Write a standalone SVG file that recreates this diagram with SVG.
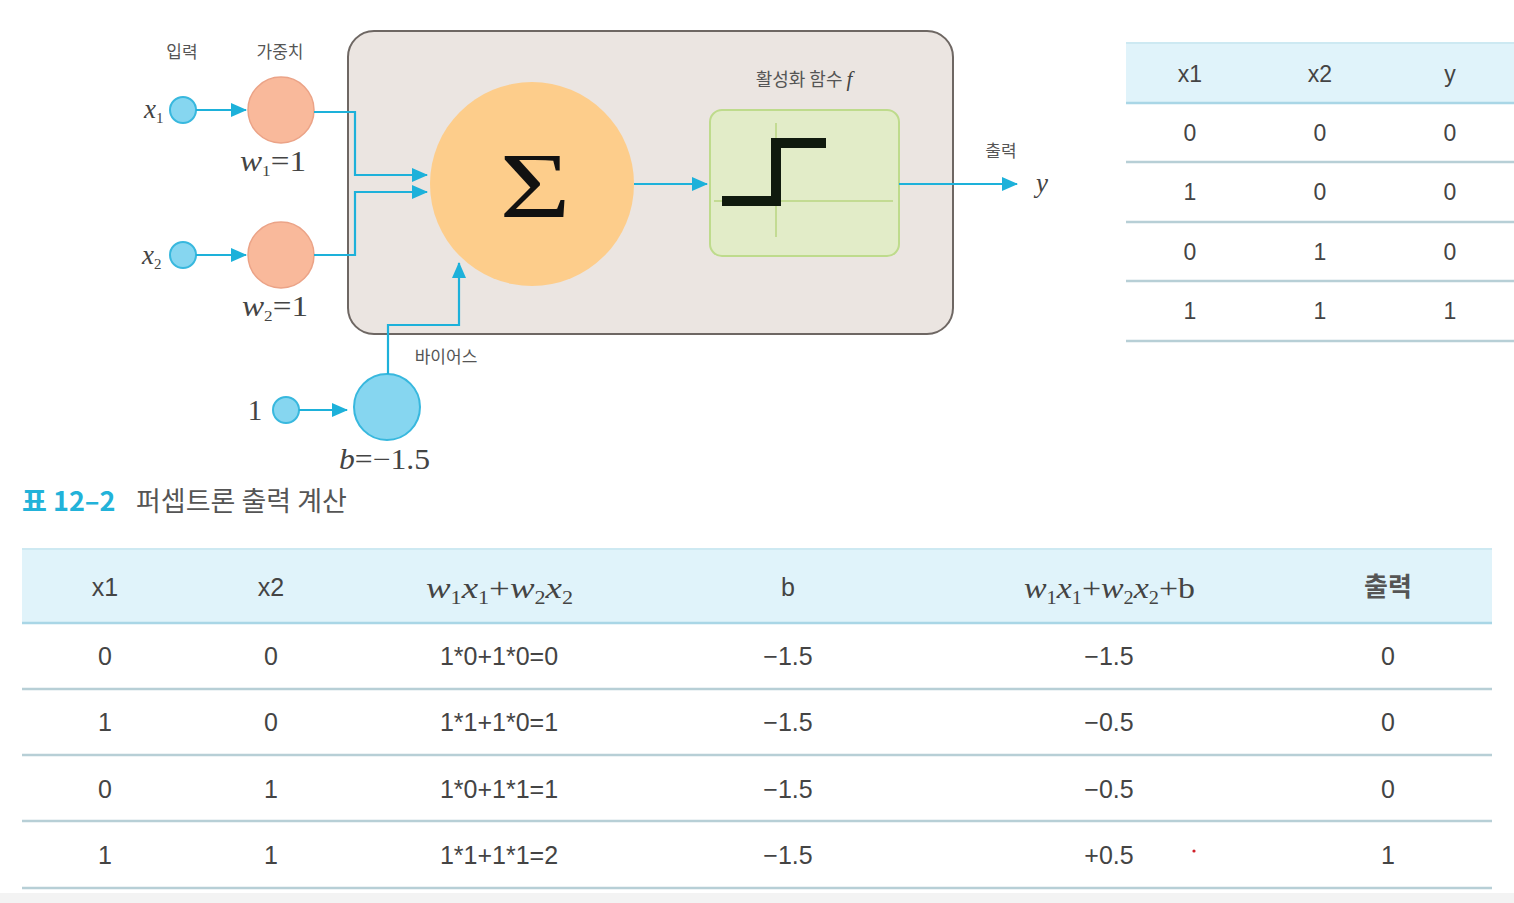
<svg xmlns="http://www.w3.org/2000/svg" width="1514" height="903" viewBox="0 0 1514 903">
<style>
.kr{font-family:"Noto Sans CJK KR","Noto Sans",sans-serif;fill:#555}
.m{font-family:"Liberation Serif",serif;fill:#444}
.i{font-style:italic}
.c{stroke:#1db1da;stroke-width:2.2;fill:none}
.in{fill:#86d6f0;stroke:#38b8de;stroke-width:2}
.w{fill:#f9b99b;stroke:#eba387;stroke-width:1.5}
.t{font-family:"Liberation Sans",Arial,sans-serif;fill:#444;text-anchor:middle}
.hl{stroke:#b7cfd6;stroke-width:2.5}
</style>
<defs>
<marker id="ah" markerUnits="userSpaceOnUse" markerWidth="16" markerHeight="14" refX="15" refY="7" orient="auto">
<path d="M0,0 L16,7 L0,14 Z" fill="#1db1da"/>
</marker>
</defs>
<rect width="1514" height="903" fill="#ffffff"/>
<rect x="0" y="893" width="1514" height="10" fill="#f3f3f3"/>

<g id="perceptron-box">
<rect x="348" y="31" width="605" height="303" rx="26" fill="#ebe5e1" stroke="#6e6763" stroke-width="2"/>
</g>

<g id="sum">
<circle cx="532" cy="184" r="102" fill="#fdcd8b"/>
<text x="0" y="0" transform="translate(535,217) scale(1.3,1)" text-anchor="middle" font-family="Liberation Serif,serif" font-size="94" fill="#111">Σ</text>
</g>

<g id="activation">
<text x="804" y="86" class="kr" font-size="18" text-anchor="middle">활성화 함수 <tspan class="m i" font-size="21">f</tspan></text>
<rect x="710" y="110" width="189" height="146" rx="12" fill="#e2ecc8" stroke="#bedb8c" stroke-width="2"/>
<line x1="714" y1="201" x2="893" y2="201" stroke="#c3db93" stroke-width="2"/>
<line x1="776" y1="123" x2="776" y2="237" stroke="#c3db93" stroke-width="2"/>
<path d="M722,201 H776 V143 H826" fill="none" stroke="#101a0e" stroke-width="10"/>
</g>

<g id="input-x1">
<text x="182" y="58" class="kr" font-size="17" text-anchor="middle">입력</text>
<circle cx="183" cy="110" r="13" class="in"/>
<text x="144" y="118" class="m i" font-size="27">x<tspan font-size="15" font-style="normal" dy="5">1</tspan></text>
</g>
<g id="weight-w1">
<text x="280" y="58" class="kr" font-size="17" text-anchor="middle">가중치</text>
<circle cx="281" cy="110" r="33" class="w"/>
<text x="240" y="171" class="m" font-size="29" textLength="66" lengthAdjust="spacingAndGlyphs"><tspan class="i">w</tspan><tspan font-size="15" dy="5">1</tspan><tspan dy="-5">=1</tspan></text>
</g>
<g id="input-x2">
<circle cx="183" cy="255" r="13" class="in"/>
<text x="142" y="264" class="m i" font-size="27">x<tspan font-size="15" font-style="normal" dy="5">2</tspan></text>
</g>
<g id="weight-w2">
<circle cx="281" cy="255" r="33" class="w"/>
<text x="242" y="316" class="m" font-size="29" textLength="66" lengthAdjust="spacingAndGlyphs"><tspan class="i">w</tspan><tspan font-size="15" dy="5">2</tspan><tspan dy="-5">=1</tspan></text>
</g>
<g id="input-1">
<circle cx="286" cy="410" r="13" class="in"/>
<text x="255" y="420" class="m" font-size="29" text-anchor="middle">1</text>
</g>
<g id="bias">
<circle cx="387" cy="407" r="33" class="in"/>
<text x="446" y="363" class="kr" font-size="17" text-anchor="middle">바이어스</text>
<text x="339" y="469" class="m" font-size="29" textLength="91" lengthAdjust="spacingAndGlyphs"><tspan class="i">b</tspan>=−1.5</text>
</g>
<g id="output">
<text x="1001" y="157" class="kr" font-size="17" text-anchor="middle">출력</text>
<text x="1042" y="192" class="m i" font-size="27" text-anchor="middle">y</text>
</g>

<g id="connectors">
<line x1="196" y1="110" x2="246" y2="110" class="c" marker-end="url(#ah)"/>
<line x1="196" y1="255" x2="246" y2="255" class="c" marker-end="url(#ah)"/>
<line x1="299" y1="410" x2="347" y2="410" class="c" marker-end="url(#ah)"/>
<path d="M314,112 H355 V175 H427" class="c" marker-end="url(#ah)"/>
<path d="M314,255 H355 V192 H427" class="c" marker-end="url(#ah)"/>
<path d="M388,374 V325 H459 V263" class="c" marker-end="url(#ah)"/>
<line x1="634" y1="184" x2="707" y2="184" class="c" marker-end="url(#ah)"/>
<line x1="899" y1="184" x2="1017" y2="184" class="c" marker-end="url(#ah)"/>
</g>

<g id="truth-table">
<rect x="1126" y="43" width="388" height="60" fill="#e0f3fa"/>
<line x1="1126" y1="43" x2="1514" y2="43" stroke="#cde9f2" stroke-width="2"/>
<line x1="1126" y1="103" x2="1514" y2="103" stroke="#a9d6e6" stroke-width="2.5"/>
<line x1="1126" y1="162" x2="1514" y2="162" class="hl"/>
<line x1="1126" y1="222" x2="1514" y2="222" class="hl"/>
<line x1="1126" y1="281" x2="1514" y2="281" class="hl"/>
<line x1="1126" y1="341" x2="1514" y2="341" class="hl"/>
<g class="t" font-size="23">
<text x="1190" y="82" class="t">x1</text><text x="1320" y="82" class="t">x2</text><text x="1450" y="82" class="t">y</text>
<text x="1190" y="141" class="t">0</text><text x="1320" y="141" class="t">0</text><text x="1450" y="141" class="t">0</text>
<text x="1190" y="200" class="t">1</text><text x="1320" y="200" class="t">0</text><text x="1450" y="200" class="t">0</text>
<text x="1190" y="260" class="t">0</text><text x="1320" y="260" class="t">1</text><text x="1450" y="260" class="t">0</text>
<text x="1190" y="319" class="t">1</text><text x="1320" y="319" class="t">1</text><text x="1450" y="319" class="t">1</text>
</g>
</g>

<g id="caption">
<text x="22" y="511" font-family="Noto Sans CJK KR,sans-serif" font-size="27" font-weight="bold" fill="#22b2d9">표 12–2</text>
<text x="136" y="511" font-family="Noto Sans CJK KR,sans-serif" font-size="27" fill="#555">퍼셉트론 출력 계산</text>
</g>

<g id="calc-table">
<rect x="22" y="549" width="1470" height="74" fill="#e0f3fa"/>
<line x1="22" y1="549" x2="1492" y2="549" stroke="#cde9f2" stroke-width="2"/>
<line x1="22" y1="623" x2="1492" y2="623" stroke="#a9d6e6" stroke-width="2.5"/>
<line x1="22" y1="689" x2="1492" y2="689" class="hl"/>
<line x1="22" y1="755" x2="1492" y2="755" class="hl"/>
<line x1="22" y1="821" x2="1492" y2="821" class="hl"/>
<line x1="22" y1="888" x2="1492" y2="888" class="hl"/>
<g font-size="25">
<text x="105" y="596" class="t">x1</text>
<text x="271" y="596" class="t">x2</text>
<text x="426" y="598" class="m" font-size="30" fill="#666" textLength="147" lengthAdjust="spacingAndGlyphs"><tspan class="i">w</tspan><tspan font-size="18" dy="6">1</tspan><tspan class="i" dy="-6">x</tspan><tspan font-size="18" dy="6">1</tspan><tspan dy="-6">+</tspan><tspan class="i">w</tspan><tspan font-size="18" dy="6">2</tspan><tspan class="i" dy="-6">x</tspan><tspan font-size="18" dy="6">2</tspan></text>
<text x="788" y="596" class="t">b</text>
<text x="1024" y="598" class="m" font-size="30" fill="#666" textLength="171" lengthAdjust="spacingAndGlyphs"><tspan class="i">w</tspan><tspan font-size="18" dy="6">1</tspan><tspan class="i" dy="-6">x</tspan><tspan font-size="18" dy="6">1</tspan><tspan dy="-6">+</tspan><tspan class="i">w</tspan><tspan font-size="18" dy="6">2</tspan><tspan class="i" dy="-6">x</tspan><tspan font-size="18" dy="6">2</tspan><tspan dy="-6">+b</tspan></text>
<text x="1388" y="596" font-family="Noto Sans CJK KR,sans-serif" font-size="26" font-weight="bold" fill="#555" text-anchor="middle">출력</text>

<text x="105" y="665" class="t">0</text><text x="271" y="665" class="t">0</text><text x="499" y="665" class="t">1*0+1*0=0</text><text x="788" y="665" class="t">−1.5</text><text x="1109" y="665" class="t">−1.5</text><text x="1388" y="665" class="t">0</text>
<text x="105" y="731" class="t">1</text><text x="271" y="731" class="t">0</text><text x="499" y="731" class="t">1*1+1*0=1</text><text x="788" y="731" class="t">−1.5</text><text x="1109" y="731" class="t">−0.5</text><text x="1388" y="731" class="t">0</text>
<text x="105" y="798" class="t">0</text><text x="271" y="798" class="t">1</text><text x="499" y="798" class="t">1*0+1*1=1</text><text x="788" y="798" class="t">−1.5</text><text x="1109" y="798" class="t">−0.5</text><text x="1388" y="798" class="t">0</text>
<text x="105" y="864" class="t">1</text><text x="271" y="864" class="t">1</text><text x="499" y="864" class="t">1*1+1*1=2</text><text x="788" y="864" class="t">−1.5</text><text x="1109" y="864" class="t">+0.5</text><text x="1388" y="864" class="t">1</text>
</g>
<circle cx="1194" cy="851" r="1.6" fill="#d0202a"/>
</g>
</svg>
